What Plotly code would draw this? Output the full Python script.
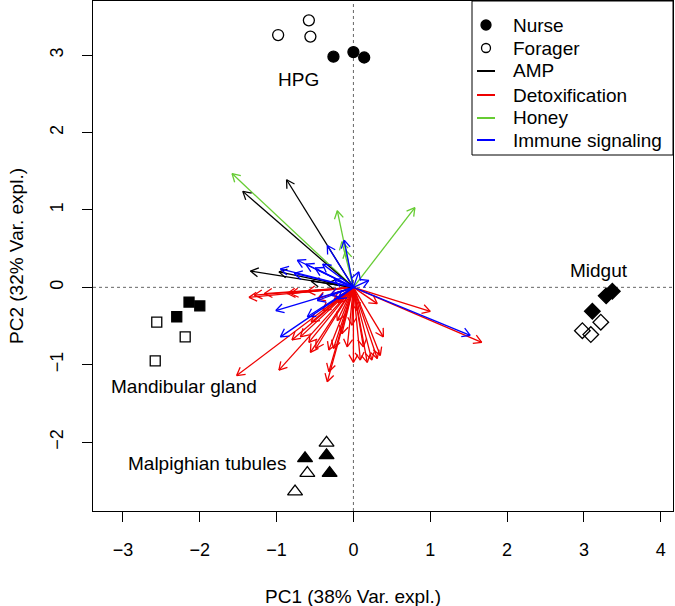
import math
import plotly.graph_objects as go

# ---------------- data ----------------
hpg_nurse_pc1 = [-0.26, 0.00, 0.14]
hpg_nurse_pc2 = [2.98, 3.04, 2.97]
hpg_forager_pc1 = [-0.98, -0.58, -0.56]
hpg_forager_pc2 = [3.26, 3.45, 3.24]

mand_nurse_pc1 = [-2.14, -2.00, -2.30]
mand_nurse_pc2 = [-0.19, -0.24, -0.38]
mand_forager_pc1 = [-2.56, -2.19, -2.58]
mand_forager_pc2 = [-0.45, -0.64, -0.95]

malp_nurse_pc1 = [-0.63, -0.35, -0.31]
malp_nurse_pc2 = [-2.21, -2.17, -2.40]
malp_forager_pc1 = [-0.35, -0.60, -0.76]
malp_forager_pc2 = [-2.01, -2.40, -2.64]

mid_nurse_pc1 = [3.37, 3.29, 3.11]
mid_nurse_pc2 = [-0.05, -0.11, -0.31]
mid_forager_pc1 = [3.22, 2.98, 3.09]
mid_forager_pc2 = [-0.45, -0.56, -0.61]

amp_pc1 = [-1.44, -0.87, -1.34, -0.97, -0.55, -0.35]
amp_pc2 = [1.24, 1.39, 0.21, 0.20, 0.08, 0.05]

honey_pc1 = [-1.58, 0.80, -0.21, -0.15, -0.10]
honey_pc2 = [1.47, 1.03, 0.99, 0.59, 0.48]

immune_pc1 = [1.52, -0.34, -0.12, -0.73, -0.95, -1.01, -0.95, -0.60, 0.20, 0.07,
              -0.50, -0.40, -0.30, -0.77, -0.47, -0.20, -0.25, -0.62]
immune_pc2 = [-0.62, 0.54, 0.61, 0.35, 0.24, -0.30, -0.64, -0.38, 0.09, 0.20,
              0.25, 0.30, -0.10, 0.18, -0.17, -0.15, 0.10, 0.30]

detox_pc1 = [-1.36, -1.16, -0.82, -0.60, -0.47, -0.30, -1.52, -0.97, 1.00, 1.67,
             0.31, -0.34, -0.32, 0.00, 0.18, 0.24, 0.31, 0.35, 0.39, -0.02,
             -0.56, -0.49, -0.80, -0.69, -0.32, -0.26, -0.58, -1.29, -0.86, -0.40,
             -0.20, -0.15, 0.05, -0.55, -0.25, 0.13, -0.08, 0.09, -0.21]
detox_pc2 = [-0.13, -0.08, -0.08, -0.05, -0.15, -0.10, -1.14, -1.07, -0.31, -0.71,
             -0.21, -1.22, -1.09, -0.97, -0.97, -0.94, -0.92, -0.88, -0.64, -0.49,
             -0.84, -0.79, -0.68, -0.64, -0.81, -0.79, -0.71, -0.10, -0.08, -0.30,
             -0.20, -0.60, -0.30, -0.45, -0.15, -0.77, -0.77, -0.94, -0.43]

x_ticks = [-3, -2, -1, 0, 1, 2, 3, 4]
y_ticks = [-2, -1, 0, 1, 2, 3]

legend_labels = ["Nurse", "Forager", "AMP", "Detoxification", "Honey", "Immune signaling"]

# ---------------- layout constants ----------------
W, H = 675, 606
ML, MR, MT, MB = 93, 2, 1, 95
XR = [-3.39, 4.16]
YR = [-2.89, 3.70]
PW, PH = W - ML - MR, H - MT - MB
SX = PW / (XR[1] - XR[0])
SY = PH / (YR[1] - YR[0])

FONT = "Liberation Sans, Arial, Helvetica, sans-serif"
TXT = 19
RED, GREEN, BLUE, BLACK = "#ee0000", "#66cc33", "#0000ff", "#000000"


def arrow_trace(xs, ys, color):
    lx, ly = [], []
    L = 9.0
    ang = math.radians(30)
    for x, y in zip(xs, ys):
        dx, dy = x * SX, y * SY
        n = math.hypot(dx, dy)
        ux, uy = dx / n, dy / n
        lx += [0, x, None]
        ly += [0, y, None]
        for s in (1, -1):
            c, sn = math.cos(s * ang), math.sin(s * ang)
            rx = ux * c - uy * sn
            ry = ux * sn + uy * c
            hx = x - L * rx / SX
            hy = y - L * ry / SY
            lx += [x, hx, None]
            ly += [y, hy, None]
    return go.Scatter(x=lx, y=ly, mode="lines", line=dict(color=color, width=1.3),
                      hoverinfo="skip", showlegend=False)


fig = go.Figure()
fig.add_trace(arrow_trace(detox_pc1, detox_pc2, RED))
fig.add_trace(arrow_trace(honey_pc1, honey_pc2, GREEN))
fig.add_trace(arrow_trace(amp_pc1, amp_pc2, BLACK))
fig.add_trace(arrow_trace(immune_pc1, immune_pc2, BLUE))


def pts(x, y, symbol, size, filled):
    return go.Scatter(x=x, y=y, mode="markers", showlegend=False,
                      marker=dict(symbol=symbol if filled else symbol + "-open",
                                  size=size, color="black",
                                  line=dict(color="black", width=1.3)))


fig.add_trace(pts(hpg_forager_pc1, hpg_forager_pc2, "circle", 11, False))
fig.add_trace(pts(hpg_nurse_pc1, hpg_nurse_pc2, "circle", 11, True))
fig.add_trace(pts(mand_forager_pc1, mand_forager_pc2, "square", 10, False))
fig.add_trace(pts(mand_nurse_pc1, mand_nurse_pc2, "square", 10, True))
fig.add_trace(pts(malp_forager_pc1, malp_forager_pc2, "triangle-up", 13, False))
fig.add_trace(pts(malp_nurse_pc1, malp_nurse_pc2, "triangle-up", 13, True))
fig.add_trace(pts(mid_forager_pc1, mid_forager_pc2, "diamond", 12, False))
fig.add_trace(pts(mid_nurse_pc1, mid_nurse_pc2, "diamond", 12, True))

shapes = [
    dict(type="line", xref="x", yref="paper", x0=0, x1=0, y0=0, y1=1,
         line=dict(color="#666", width=1, dash="dot"), layer="below"),
    dict(type="line", xref="paper", yref="y", x0=0, x1=1, y0=0, y1=0,
         line=dict(color="#666", width=1, dash="dot"), layer="below"),
]

annotations = []
def px2paper_x(px):
    return (px - ML) / PW
def py2paper_y(py):
    return (H - MB - py) / PH

# legend box
shapes.append(dict(type="rect", xref="paper", yref="paper",
                   x0=px2paper_x(472), x1=1, y0=py2paper_y(155), y1=1,
                   line=dict(color="black", width=1), fillcolor="white"))
leg_y = [25, 48, 71, 95, 118, 140]
leg_colors = [None, None, BLACK, RED, GREEN, BLUE]
for i, (lab, ly) in enumerate(zip(legend_labels, leg_y)):
    yy = py2paper_y(ly)
    if i < 2:
        r = 5 if i == 0 else 4.5
        shapes.append(dict(type="circle", xref="paper", yref="paper",
                           xsizemode="pixel", ysizemode="pixel",
                           xanchor=px2paper_x(486), yanchor=yy,
                           x0=-r, x1=r, y0=-r, y1=r,
                           line=dict(color="black", width=1.3),
                           fillcolor="black" if i == 0 else "white"))
    else:
        shapes.append(dict(type="line", xref="paper", yref="paper",
                           x0=px2paper_x(477), x1=px2paper_x(495), y0=yy, y1=yy,
                           line=dict(color=leg_colors[i], width=2)))
    annotations.append(dict(text=lab, xref="paper", yref="paper",
                            x=px2paper_x(511), y=yy, xanchor="left", yanchor="middle",
                            showarrow=False, font=dict(size=TXT, color="black", family=FONT)))

# group labels (data coords)
group_labels = ["HPG", "Mandibular gland", "Malpighian tubules", "Midgut"]
group_label_x = [-0.71, -2.21, -1.90, 3.20]
group_label_y = [2.69, -1.28, -2.27, 0.22]
for t, x, y in zip(group_labels, group_label_x, group_label_y):
    annotations.append(dict(text=t, x=x, y=y, xref="x", yref="y", showarrow=False,
                            xanchor="center", yanchor="middle",
                            font=dict(size=TXT, color="black", family=FONT)))

# axis titles
annotations.append(dict(text="PC1 (38% Var. expl.)", xref="paper", yref="paper",
                        x=px2paper_x(353), y=py2paper_y(596), showarrow=False,
                        xanchor="center", yanchor="middle",
                        font=dict(size=TXT, color="black", family=FONT)))
annotations.append(dict(text="PC2 (32% Var. expl.)", xref="paper", yref="paper",
                        x=px2paper_x(16), y=py2paper_y(256), showarrow=False,
                        xanchor="center", yanchor="middle", textangle=-90,
                        font=dict(size=TXT, color="black", family=FONT)))

axis_common = dict(showgrid=False, zeroline=False, showline=True, linecolor="black",
                   linewidth=1, mirror=True, ticks="outside", ticklen=10,
                   tickcolor="black", tickwidth=1,
                   tickfont=dict(size=18, color="black", family=FONT))

fig.update_layout(
    width=W, height=H, margin=dict(l=ML, r=MR, t=MT, b=MB),
    paper_bgcolor="white", plot_bgcolor="white", showlegend=False,
    xaxis=dict(range=XR, tickvals=x_ticks, ticklabelstandoff=12, **axis_common),
    yaxis=dict(range=YR, tickvals=y_ticks, tickangle=-90, ticklabelstandoff=12,
               **axis_common),
    shapes=shapes, annotations=annotations,
)

fig.write_html("out.html", config={"displayModeBar": False},
               post_script="document.body.style.margin='0';")
